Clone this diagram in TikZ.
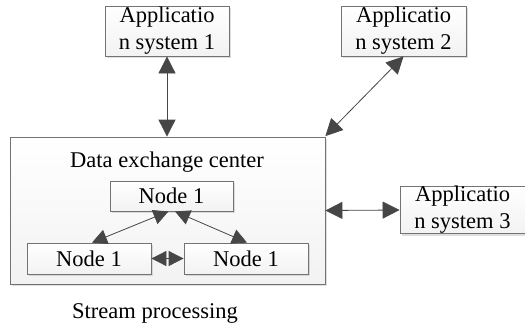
\documentclass[tikz,border=0pt]{standalone}
\usepackage{fontspec}
\setmainfont{Liberation Serif}
\usetikzlibrary{arrows.meta,shadows}
\begin{document}
\begin{tikzpicture}[x=1pt,y=-1pt,
  box/.style={draw=gray!90!black, line width=0.8pt, top color=white, bottom color=gray!10, inner sep=0pt, anchor=center,
    drop shadow={shadow xshift=2pt, shadow yshift=-2pt, opacity=0.25, fill=gray}},
  txt/.style={font=\fontsize{22.5}{27}\selectfont, align=center},
  conn/.style={draw=gray!55!black, line width=0.8pt, {Triangle[length=17pt,width=17pt]}-{Triangle[length=17pt,width=17pt]}},
  sconn/.style={draw=gray!55!black, line width=0.8pt, {Triangle[length=15pt,width=15pt]}-{Triangle[length=15pt,width=15pt]}}
]
\useasboundingbox (0,0) rectangle (525,330);
\node[box, txt, minimum width=124pt, minimum height=50pt] (app1) at (167,31) {Applicatio\\n system 1};
\node[box, txt, minimum width=125pt, minimum height=50pt] (app2) at (403.5,31) {Applicatio\\n system 2};
\node[box, txt, minimum width=125pt, minimum height=46pt] (app3) at (462.5,210) {Applicatio\\n system 3};
\node[box, minimum width=315pt, minimum height=147pt] (center) at (167.5,210.5) {};
\node[txt] (title) at (167,162) {Data exchange center};
\node[box, txt, minimum width=123pt, minimum height=30pt] (top) at (171.5,196) {Node 1};
\node[box, txt, minimum width=124pt, minimum height=31pt] (left) at (89,258.5) {Node 1};
\node[box, txt, minimum width=124pt, minimum height=31pt] (right) at (246,258.5) {Node 1};
\node[txt] (stream) at (155,313) {Stream processing};
\coordinate (c1) at ([yshift=0.5pt]center.north east);
\coordinate (ts1) at ([xshift=-3pt]top.south);
\coordinate (ts2) at ([xshift=3.5pt]top.south);
\coordinate (ln) at ([xshift=3pt]left.north);
\coordinate (rn) at ([xshift=1pt]right.north);
\draw[conn] (app1.south) -- (app1.south |- center.north);
\draw[conn] (app2.south) -- (c1);
\draw[conn] (center.east) -- (app3.west);
\draw[sconn] (ts1) -- (ln);
\draw[sconn] (ts2) -- (rn);
\draw[sconn] (left.east) -- (right.west);
\end{tikzpicture}
\end{document}
